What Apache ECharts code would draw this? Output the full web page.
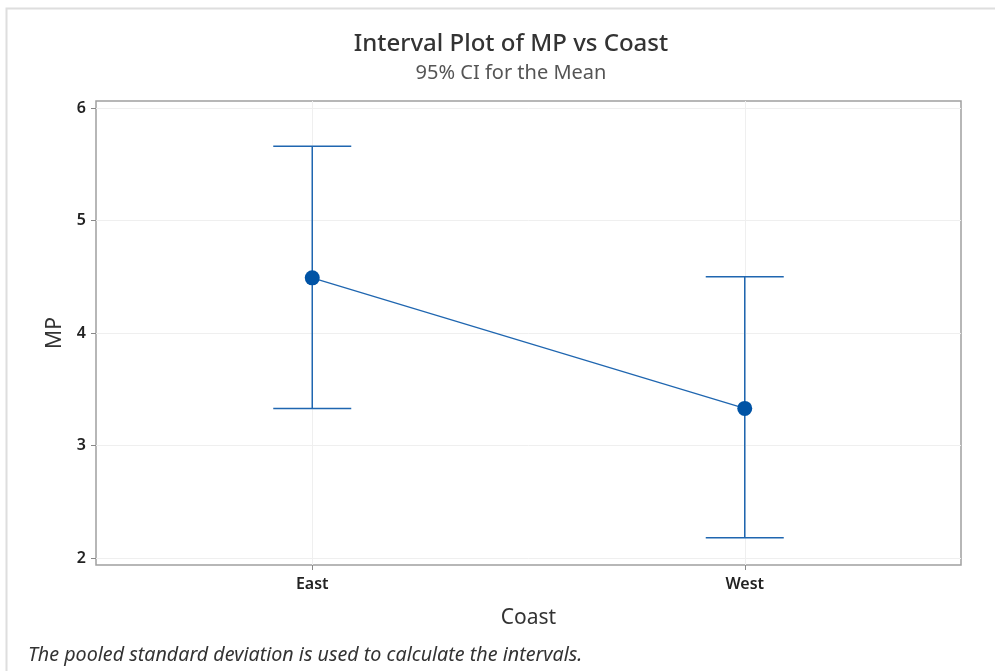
<!DOCTYPE html>
<html>
<head>
<meta charset="utf-8">
<script src="https://cdn.jsdelivr.net/npm/echarts@6/dist/echarts.min.js"></script>
<style>html,body{margin:0;padding:0;background:#fff;}#c{width:995px;height:671px;}</style>
</head>
<body>
<div id="c"></div>
<script>
const categories = ['East', 'West'];
const means = [4.49, 3.33];
const lowerCI = [3.33, 2.18];
const upperCI = [5.66, 4.50];
const yTicks = [2, 3, 4, 5, 6];
const xTicks = [1, 2];

const chart = echarts.init(document.getElementById('c'));
const font = '"Noto Sans", "Open Sans", sans-serif';
const blue = '#1f66b0';

const option = {
  animation: false,
  title: [
    { text: 'Interval Plot of MP vs Coast', left: 506, top: 27, textAlign: 'center',
      textStyle: { fontFamily: font, fontSize: 24, fontWeight: 500, color: '#333' } },
    { text: '95% CI for the Mean', left: 506, top: 58, textAlign: 'center',
      textStyle: { fontFamily: font, fontSize: 20, fontWeight: 'normal', color: '#555' } }
  ],
  graphic: [
    { type: 'rect', shape: { x: 6.5, y: 8.5, width: 1100, height: 800 }, silent: true,
      style: { fill: 'none', stroke: '#dedede', lineWidth: 2 } },
    { type: 'text', left: 28, top: 645, silent: true,
      style: { text: 'The pooled standard deviation is used to calculate the intervals.',
        font: 'italic 19.7px "Noto Sans", sans-serif', fill: '#333' } }
  ],
  grid: { left: 96, right: 34, top: 101, bottom: 106, show: true, borderColor: '#a0a0a0', borderWidth: 1.5, containLabel: false },
  xAxis: {
    type: 'value', min: 0.5, max: 2.5,
    name: 'Coast', nameLocation: 'middle', nameGap: 43,
    nameTextStyle: { fontFamily: font, fontSize: 21, color: '#333' },
    axisLine: { show: false },
    axisTick: { show: true, customValues: xTicks, length: 5, lineStyle: { color: '#888' } },
    axisLabel: { customValues: xTicks, formatter: v => categories[Math.round(v) - 1] || '',
      fontFamily: font, fontSize: 16, fontWeight: 600, color: '#222', margin: 11 },
    splitLine: { show: true, lineStyle: { color: '#efefef' } }
  },
  yAxis: {
    type: 'value', min: 1.938, max: 6.062,
    name: 'MP', nameLocation: 'middle', nameGap: 29,
    nameTextStyle: { fontFamily: font, fontSize: 21, color: '#333' },
    axisLine: { show: false },
    axisTick: { show: true, customValues: yTicks, length: 5, lineStyle: { color: '#888' } },
    axisLabel: { customValues: yTicks, fontFamily: font, fontSize: 16, fontWeight: 600, color: '#222', margin: 10 },
    splitLine: { show: true, lineStyle: { color: '#efefef' } }
  },
  series: [
    {
      type: 'custom',
      data: categories.map((c, i) => [i + 1, lowerCI[i], upperCI[i]]),
      renderItem: function (params, api) {
        const x = api.value(0);
        const lo = api.coord([x, api.value(1)]);
        const hi = api.coord([x, api.value(2)]);
        const half = 39;
        const st = { stroke: blue, lineWidth: 1.5 };
        return { type: 'group', children: [
          { type: 'line', shape: { x1: lo[0], y1: lo[1], x2: hi[0], y2: hi[1] }, style: st },
          { type: 'line', shape: { x1: hi[0] - half, y1: hi[1], x2: hi[0] + half, y2: hi[1] }, style: st },
          { type: 'line', shape: { x1: lo[0] - half, y1: lo[1], x2: lo[0] + half, y2: lo[1] }, style: st }
        ]};
      },
      z: 2
    },
    {
      type: 'line',
      data: means.map((m, i) => [i + 1, m]),
      symbol: 'circle', symbolSize: 15,
      lineStyle: { color: blue, width: 1.2 },
      itemStyle: { color: '#0053a5' },
      z: 3
    }
  ]
};
chart.setOption(option);
</script>
</body>
</html>
